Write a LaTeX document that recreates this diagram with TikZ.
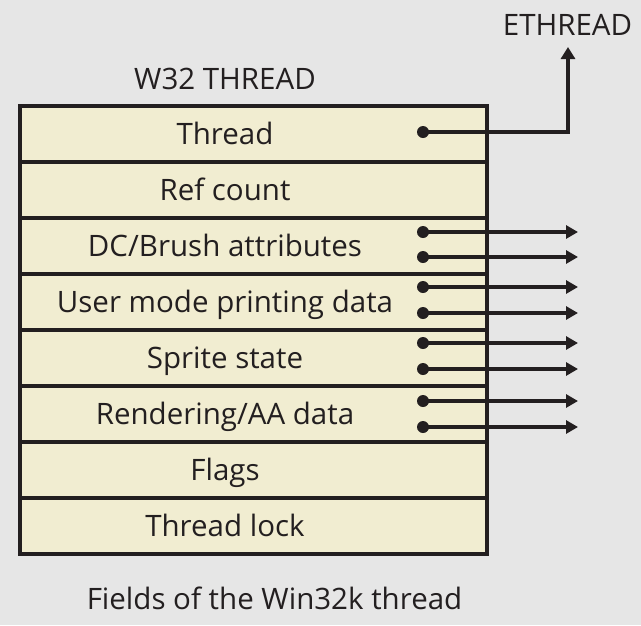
\documentclass[tikz,border=0pt]{standalone}
\usepackage{fontspec}
\setmainfont{Open Sans}
\usetikzlibrary{arrows.meta}
\definecolor{bg}{HTML}{E6E6E6}
\definecolor{cream}{HTML}{F1EDD1}
\definecolor{ink}{HTML}{231F20}
\begin{document}
\begin{tikzpicture}[x=1pt,y=-1pt,
  rowbox/.style={draw=ink,fill=cream,line width=4pt,minimum width=467pt,minimum height=56pt,inner sep=0pt,anchor=north west},
  rowtext/.style={anchor=base,text=ink,font=\fontsize{29.5}{32}\selectfont,inner sep=0pt},
  ptr/.style={draw=ink,line width=3.2pt,-{Triangle[length=12pt,width=13pt]}},
  ethptr/.style={draw=ink,line width=3.8pt,-{Triangle[length=12pt,width=14pt]}},
  dot/.style={fill=ink}]
\fill[bg] (0,0) rectangle (641,625);
\useasboundingbox (0,0) rectangle (641,625);
% rows
\foreach \i/\t in {0/Thread,1/Ref count,2/{DC/Brush attributes},3/User mode printing data,4/Sprite state,5/{Rendering/AA data},6/Flags,7/Thread lock}{
  \node[rowbox] (r\i) at (18,{104+56*\i}) {};
  \node[rowtext] (t\i) at (225,{104+56*\i+40}) {\t};
}
\node[rowtext] (title) at (225,89) {W32 THREAD};
\node[rowtext] (caption) at (274.5,609) {Fields of the Win32k thread};
\node[rowtext] (eth) at (567.5,35) {ETHREAD};
% ethread pointer
\coordinate (d0) at (423,132);
\coordinate (bend) at (568,132);
\coordinate (e0) at (568,47);
\draw[ethptr,line join=miter] (d0) -- (bend) -- (e0);
\fill[dot] (d0) circle (6);
% other pointers
\foreach \k/\y in {1/232,2/257,3/287,4/313,5/343,6/369,7/401,8/427}{
  \coordinate (d\k) at (423,\y);
  \coordinate (e\k) at (578,\y);
  \draw[ptr] (d\k) -- (e\k);
  \fill[dot] (d\k) circle (6);
}
\end{tikzpicture}
\end{document}
